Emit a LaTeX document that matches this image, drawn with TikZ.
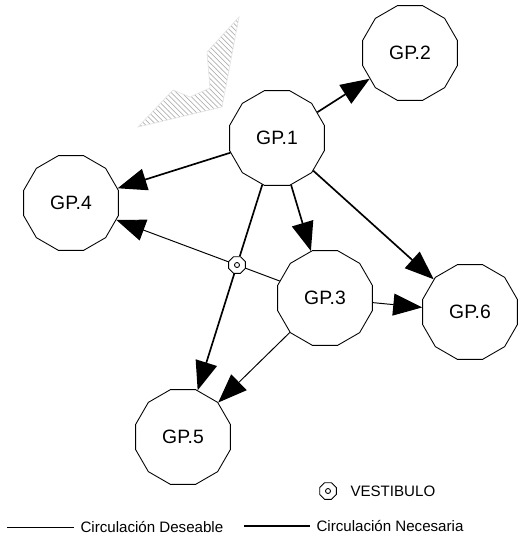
\documentclass[tikz,border=0pt]{standalone}
\usepackage{fontspec}
\setmainfont{Liberation Sans}
\usetikzlibrary{shapes.geometric, arrows.meta, patterns}

\begin{document}
\begin{tikzpicture}[x=0.02cm, y=-0.02cm, >={Triangle[length=0.58cm, width=0.44cm]},
  gp/.style={draw, regular polygon, regular polygon sides=12, minimum size=1.96cm,
    inner sep=0pt, line width=0.5pt, font=\fontsize{11}{13}\selectfont},
  vest/.style={draw, fill=white, regular polygon, regular polygon sides=8,
    minimum size=0.36cm, inner sep=0pt, line width=0.5pt},
  deseable/.style={line width=0.55pt},
  necesaria/.style={line width=0.95pt},
  legend/.style={font=\fontsize{8.6}{10}\selectfont, anchor=west, inner sep=3.5pt}]
  \useasboundingbox (0,0) rectangle (521,538);
  % hatched zone
  \draw[draw=gray!20, pattern=north west lines, pattern color=gray!60]
    (239,17) -- (207,52) -- (210,88) -- (190,97) -- (173,90) -- (138,127) -- (222,107) -- cycle;
  % groups
  \node[gp] (gp1) at (277,138) {GP.1};
  \node[gp] (gp2) at (410,53) {GP.2};
  \node[gp] (gp3) at (325,298) {GP.3};
  \node[gp] (gp4) at (71,203) {GP.4};
  \node[gp] (gp5) at (183,437) {GP.5};
  \node[gp] (gp6) at (470,312) {GP.6};
  \node[vest] (v) at (237,265) {};
  \draw[line width=0.5pt] (v.center) circle (0.05cm);
  % circulacion necesaria
  \draw[necesaria, ->] (gp1) -- (gp2);
  \draw[necesaria, ->] (gp1) -- (gp4);
  \draw[necesaria, ->] (gp1) -- (gp3);
  \draw[necesaria, ->] (gp1) -- (gp6);
  \draw[necesaria] (gp1) -- (v);
  \draw[necesaria, ->] (v) -- (gp5);
  % circulacion deseable
  \draw[deseable, ->] (v) -- (gp4);
  \draw[deseable] (v) -- (gp3);
  \draw[deseable, ->] (gp3) -- (gp6);
  \draw[deseable, ->] (gp3) -- (gp5);
  % legend
  \node[vest] (lv) at (328,491) {};
  \draw[line width=0.5pt] (lv.center) circle (0.05cm);
  \node[legend] (lvtxt) at (344,491) {VESTIBULO};
  \coordinate (d0) at (7,527);
  \node[legend] (dtxt) at (74,527) {Circulación Deseable};
  \draw[deseable] (d0) -- (dtxt.west);
  \coordinate (n0) at (244,526);
  \node[legend] (ntxt) at (310,526) {Circulación Necesaria};
  \draw[necesaria] (n0) -- (ntxt.west);
\end{tikzpicture}
\end{document}
